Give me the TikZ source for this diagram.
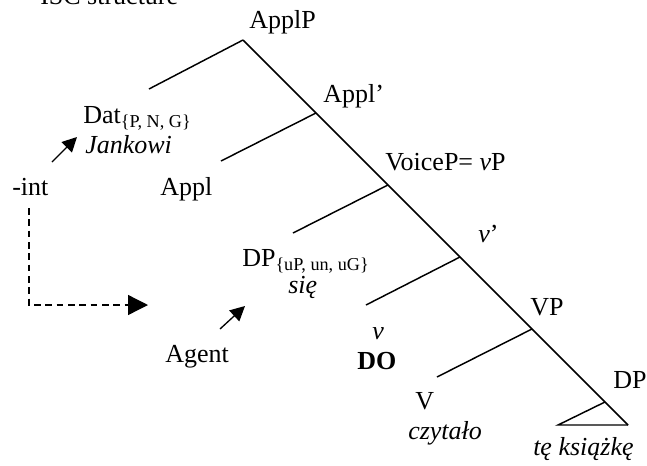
\documentclass[tikz,border=0pt]{standalone}
\usepackage{fontspec}
\setmainfont{Liberation Serif}
\usetikzlibrary{arrows.meta}
\begin{document}
\begin{tikzpicture}[x=0.75pt,y=-0.75pt]
		\tikzset{lbl/.style={font=\fontsize{19.5}{23}\selectfont,inner sep=0pt,text=black,anchor=base west},
			branch/.style={line width=1.1pt},
			bigtip/.style={-{Triangle[length=11pt,width=11pt]},line width=1pt}}
		\useasboundingbox (0,0) rectangle (647,465);
		%Spine points
		\coordinate (applp) at (243,40);
		\coordinate (applbar) at (316,113);
		\coordinate (voicep) at (388,185);
		\coordinate (vbar) at (460,257);
		\coordinate (vp) at (532,329);
		\coordinate (dp) at (605,402);
		\coordinate (dpr) at (628,425);
		%Branch ends
		\coordinate (datend) at (149,89);
		\coordinate (applend) at (221,161);
		\coordinate (sieend) at (293,233);
		\coordinate (vend) at (366,305);
		\coordinate (verbend) at (437,377);
		\coordinate (dpl) at (558,425);
		%Begin tree
		\draw[branch] (applp) -- (dpr);
		\draw[branch] (applp) -- (datend);
		\draw[branch] (applbar) -- (applend);
		\draw[branch] (voicep) -- (sieend);
		\draw[branch] (vbar) -- (vend);
		\draw[branch] (vp) -- (verbend);
		\draw[branch] (dp) -- (dpl) -- (dpr);
		%Labels
		\node[lbl] (title) at (40,4) {ISC structure};
		\node[lbl] (lapplp) at (249,28) {ApplP};
		\node[lbl] (lapplbar) at (323,102) {Appl’};
		\node[lbl] (dat) at (83,123) {Dat\textsubscript{\{P, N, G\}}};
		\node[lbl] (jankowi) at (85,153) {\textit{Jankowi}};
		\node[lbl] (int) at (12,195) {-int};
		\node[lbl] (appl) at (160,195) {Appl};
		\node[lbl] (lvoicep) at (385,170) {VoiceP= \textit{v}P};
		\node[lbl] (lvbar) at (478,242) {\textit{v}’};
		\node[lbl] (dpsie) at (242,266) {DP\textsubscript{\{uP, un, uG\}}};
		\node[lbl] (sie) at (288,293) {\textit{się}};
		\node[lbl] (agent) at (165,362) {Agent};
		\node[lbl] (lv) at (372,339) {\textit{v}};
		\node[lbl] (do) at (357,369) {\textbf{DO}};
		\node[lbl] (lvp) at (530,315) {VP};
		\node[lbl] (verb) at (415,409) {V};
		\node[lbl] (czytalo) at (408,439) {\textit{czytało}};
		\node[lbl] (ldp) at (613,388) {DP};
		\node[lbl] (ksiazke) at (533,455) {\textit{tę książkę}};
		%Arrows
		\coordinate (datfrom) at (52,162);
		\coordinate (datto) at (77,137);
		\coordinate (agfrom) at (220,329);
		\coordinate (agto) at (245,306);
		\coordinate (inttop) at (29,208);
		\coordinate (intcorner) at (29,305);
		\coordinate (intto) at (148,305);
		\draw[bigtip] (datfrom) -- (datto);
		\draw[bigtip] (agfrom) -- (agto);
		\draw[-{Triangle[length=15pt,width=15pt]},line width=1pt,dash pattern=on 5pt off 3.5pt] (inttop) -- (intcorner) -- (intto);
	\end{tikzpicture}
\end{document}
